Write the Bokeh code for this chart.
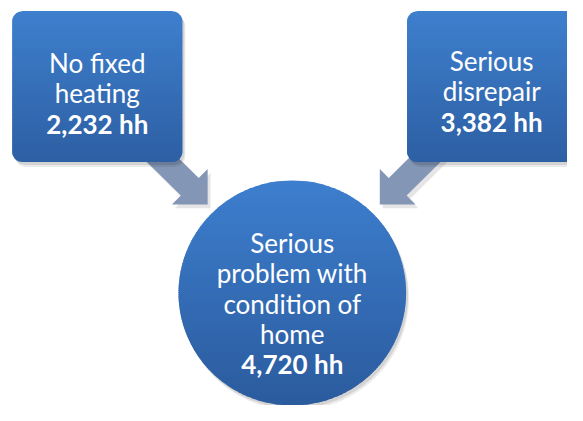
import numpy as np
from bokeh.plotting import figure
from bokeh.models import Range1d
from bokeh.core.properties import value
from bokeh.embed import file_html
from bokeh.resources import INLINE

# ---- data ----
node_labels = [["No fixed", "heating"], ["Serious", "disrepair"],
               ["Serious", "problem with", "condition of", "home"]]
node_values = [2232, 3382, 4720]
unit = "hh"

# ---- layout (reference-pixel coordinates) ----
W, H = 567, 405
p = figure(width=W, height=H, output_backend="svg", toolbar_location=None,
           x_range=Range1d(0, 583), y_range=Range1d(421, 0),
           min_border=0)
p.axis.visible = False
p.grid.visible = False
p.outline_line_color = None
p.background_fill_color = "white"

boxes = [(12, 187, 11, 168), (418, 593, 11, 168)]
RAD = 11
circ = (300, 304, 117)

def rr_ext(y, x0, x1, y0, y1, r):
    dy = 0.0
    if y < y0 + r:
        dy = y0 + r - y
    elif y > y1 - r:
        dy = y - (y1 - r)
    dy = min(dy, r)
    dx = r - np.sqrt(max(r * r - dy * dy, 0.0))
    return x0 + dx, x1 - dx

def circ_ext(y, cx, cy, r):
    d = np.sqrt(max(r * r - (y - cy) ** 2, 0.0))
    return cx - d, cx + d

def mix(c0, c1, t):
    c = [int(round(a + (b - a) * t)) for a, b in zip(c0, c1)]
    return "#%02x%02x%02x" % tuple(c)

def shape_outline(ext, ytop, ybot, n=120):
    ys = np.linspace(ytop, ybot, n)
    L = [ext(y)[0] for y in ys]
    R = [ext(y)[1] for y in ys]
    return L + R[::-1], list(ys) + list(ys[::-1])

def gradient_strips(ext, ytop, ybot, c0, c1, step=2.0):
    xs_all, ys_all, cols = [], [], []
    y = ytop
    while y < ybot:
        yb = min(y + step + 1.0, ybot)
        ys = np.linspace(y, yb, 4)
        L = [ext(v)[0] for v in ys]
        R = [ext(v)[1] for v in ys]
        xs_all.append(L + R[::-1])
        ys_all.append(list(ys) + list(ys[::-1]))
        cols.append(mix(c0, c1, (y - ytop) / (ybot - ytop)))
        y += step
    return xs_all, ys_all, cols

def arrow(tip, d, L=26.0, Hw=26.0, w=13.0, back=95.0):
    d = np.array(d, float); d /= np.linalg.norm(d)
    n = np.array([d[1], -d[0]])
    T = np.array(tip, float)
    B = T - L * d
    S = B - back * d
    pts = [S + w * n, B + w * n, B + Hw * n, T, B - Hw * n, B - w * n, S - w * n]
    return [q[0] for q in pts], [q[1] for q in pts]

# ---- arrows (behind) ----
arrows = [arrow((213, 212), (1, 1)), arrow((390, 212), (-1, 1))]
for ax, ay in arrows:
    p.patch([x + 3 for x in ax], [y + 4 for y in ay], fill_color="black",
            fill_alpha=0.10, line_color=None)
    p.patch(ax, ay, fill_color="#8496b6", line_color=None)

# ---- boxes ----
top_c, bot_c = (62, 127, 205), (45, 95, 163)
for (x0, x1, y0, y1) in boxes:
    ext = lambda y, a=x0, b=x1, c=y0, e=y1: rr_ext(y, a, b, c, e, RAD)
    ox, oy = shape_outline(ext, y0, y1)
    p.patch([x + 3 for x in ox], [y + 5 for y in oy], fill_color="black",
            fill_alpha=0.08, line_color=None)
    p.patch([x + 2 for x in ox], [y + 3 for y in oy], fill_color="black",
            fill_alpha=0.10, line_color=None)
    xs, ys, cols = gradient_strips(ext, y0, y1, top_c, bot_c)
    p.patches(xs, ys, fill_color=cols, line_color=None)

# ---- circle ----
cx, cy, r = circ
cext = lambda y: circ_ext(y, cx, cy, r)
ox, oy = shape_outline(cext, cy - r, cy + r, 200)
p.patch([x + 3 for x in ox], [y + 5 for y in oy], fill_color="black",
        fill_alpha=0.08, line_color=None)
p.patch([x + 2 for x in ox], [y + 3 for y in oy], fill_color="black",
        fill_alpha=0.10, line_color=None)
xs, ys, cols = gradient_strips(cext, cy - r, cy + r, (61, 126, 206), (43, 91, 157))
p.patches(xs, ys, fill_color=cols, line_color=None)

# ---- texts ----
centers_x = [99.5, 505, 300]
first_base = [65, 63, 252]
LINE = 31.5
FONT = value("Lato")
for i, lines in enumerate(node_labels):
    allines = lines + [f"{node_values[i]:,} {unit}"]
    for j, t in enumerate(allines):
        bold = j == len(allines) - 1
        p.text(x=[centers_x[i]], y=[first_base[i] + j * LINE], text=[t],
               text_font=FONT, text_font_size="26px",
               text_font_style="bold" if bold else "normal",
               text_color="white", text_align="center",
               text_baseline="alphabetic")

open("out.html", "w").write(file_html(p, INLINE))
